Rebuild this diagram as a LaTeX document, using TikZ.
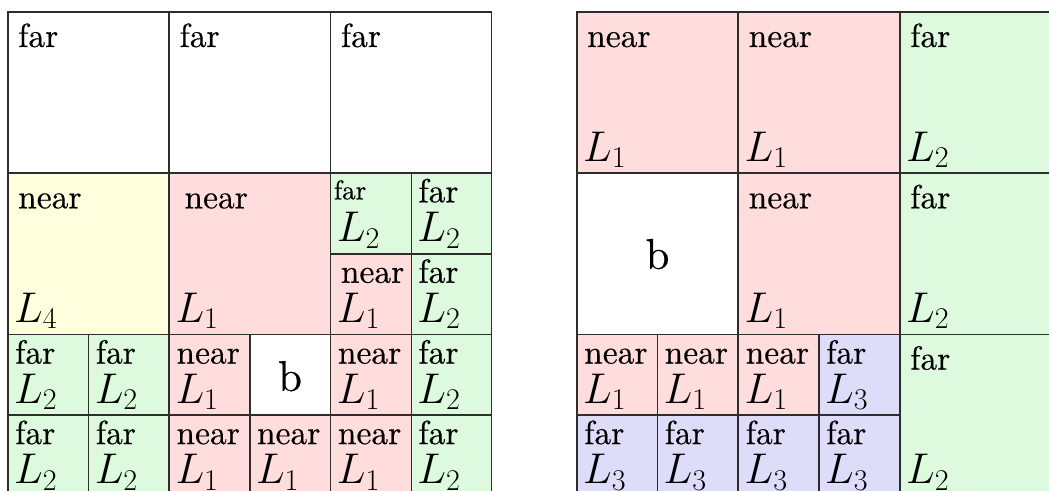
\RequirePackage{fix-cm}
\documentclass[tikz,border=0pt]{standalone}
\usepackage{fontspec}
\setmainfont{lmroman10-regular.otf}[FakeBold=0.4]
\definecolor{linecol}{RGB}{45,45,45}
\definecolor{pinkc}{RGB}{255,221,221}
\definecolor{greenc}{RGB}{222,250,222}
\definecolor{yellowc}{RGB}{255,255,222}
\definecolor{bluec}{RGB}{221,221,250}
\tikzset{
  cellbox/.style={draw=linecol, line width=1.4pt, inner sep=0pt, outer sep=0pt, anchor=north west},
  bigc/.style={cellbox, minimum width=161pt, minimum height=161pt},
  smallc/.style={cellbox, minimum width=80.5pt, minimum height=80.5pt},
  word/.style={anchor=base west, inner sep=0pt, font=\fontsize{33.5}{33.5}\selectfont},
  sword/.style={anchor=base west, inner sep=0pt, font=\fontsize{27}{27}\selectfont},
  lab/.style={anchor=base west, inner sep=0pt, font=\fontsize{43}{43}\selectfont},
  bchar/.style={anchor=base, inner sep=0pt, font=\fontsize{43}{43}\selectfont}
}
% big cell: name, x, y, fill, word
\newcommand\bcell[5]{%
  \node[bigc, fill=#4] (#1) at (#2,#3) {};
  \node[word] (#1w) at ([shift={(10,35)}]#1.north west) {#5};}
% small cell: name, x, y, fill, word
\newcommand\scell[5]{%
  \node[smallc, fill=#4] (#1) at (#2,#3) {};
  \node[word] (#1w) at ([shift={(7,29)}]#1.north west) {#5};}
% L label: name, index
\newcommand\Llab[2]{%
  \node[lab] (#1l) at ([shift={(6,-12)}]#1.south west) {$L_{#2}$};}
\begin{document}
\begin{tikzpicture}[x=1pt,y=-1pt]
\useasboundingbox (0,0) rectangle (1049,490);
\clip (0,0) rectangle (1049,490);
% ---------------- left grid ----------------
\bcell{la}{8}{12}{white}{far}
\bcell{lb}{169.3}{12}{white}{far}
\bcell{lc}{330.7}{12}{white}{far}
\bcell{ld}{8}{173.3}{yellowc}{near}\Llab{ld}{4}
\bcell{le}{169.3}{173.3}{pinkc}{\hspace{5pt}near}\Llab{le}{1}
% subdivided right cell, row 1
\node[smallc, fill=greenc] (lf1) at (330.7,173.3) {};
\node[sword] (lf1w) at ([shift={(3,26)}]lf1.north west) {far};
\Llab{lf1}{2}
\scell{lf2}{411.2}{173.3}{greenc}{far}\Llab{lf2}{2}
\scell{lf3}{330.7}{253.8}{pinkc}{\hspace{3pt}near}\Llab{lf3}{1}
\scell{lf4}{411.2}{253.8}{greenc}{far}\Llab{lf4}{2}
% row 2, col 0
\scell{lg1}{8}{334.6}{greenc}{far}\Llab{lg1}{2}
\scell{lg2}{88.6}{334.6}{greenc}{far}\Llab{lg2}{2}
\scell{lg3}{8}{415.1}{greenc}{far}\Llab{lg3}{2}
\scell{lg4}{88.6}{415.1}{greenc}{far}\Llab{lg4}{2}
% row 2, col 1
\scell{lh1}{169.3}{334.6}{pinkc}{near}\Llab{lh1}{1}
\node[smallc, fill=white] (lh2) at (249.8,334.6) {};
\node[bchar] (lh2b) at ([shift={(0,16)}]lh2.center) {b};
\scell{lh3}{169.3}{415.1}{pinkc}{near}\Llab{lh3}{1}
\scell{lh4}{249.8}{415.1}{pinkc}{near}\Llab{lh4}{1}
% row 2, col 2
\scell{li1}{330.7}{334.6}{pinkc}{near}\Llab{li1}{1}
\scell{li2}{411.2}{334.6}{greenc}{far}\Llab{li2}{2}
\scell{li3}{330.7}{415.1}{pinkc}{near}\Llab{li3}{1}
\scell{li4}{411.2}{415.1}{greenc}{far}\Llab{li4}{2}
% ---------------- right grid ----------------
\bcell{ra}{577}{12}{pinkc}{near}\Llab{ra}{1}
\bcell{rb}{738.5}{12}{pinkc}{near}\Llab{rb}{1}
\bcell{rc}{900}{12}{greenc}{far}\Llab{rc}{2}
\node[bigc, fill=white] (rd) at (577,173.3) {};
\node[bchar] (rdb) at ([shift={(0,15)}]rd.center) {b};
\bcell{re}{738.5}{173.3}{pinkc}{near}\Llab{re}{1}
\bcell{rf}{900}{173.3}{greenc}{far}\Llab{rf}{2}
% row 2 col 0
\scell{rg1}{577}{334.6}{pinkc}{near}\Llab{rg1}{1}
\scell{rg2}{657.5}{334.6}{pinkc}{near}\Llab{rg2}{1}
\scell{rg3}{577}{415.1}{bluec}{far}\Llab{rg3}{3}
\scell{rg4}{657.5}{415.1}{bluec}{far}\Llab{rg4}{3}
% row 2 col 1
\scell{rh1}{738.5}{334.6}{pinkc}{near}\Llab{rh1}{1}
\scell{rh2}{819}{334.6}{bluec}{far}\Llab{rh2}{3}
\scell{rh3}{738.5}{415.1}{bluec}{far}\Llab{rh3}{3}
\scell{rh4}{819}{415.1}{bluec}{far}\Llab{rh4}{3}
% row 2 col 2
\bcell{ri}{900}{334.6}{greenc}{far}\Llab{ri}{2}
\end{tikzpicture}
\end{document}
